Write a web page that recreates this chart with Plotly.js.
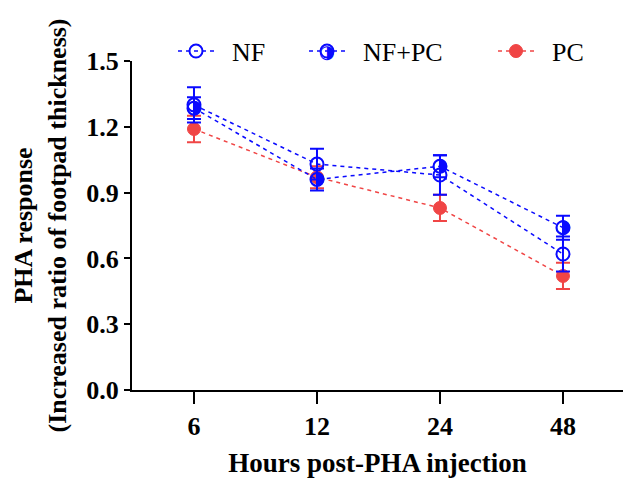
<!DOCTYPE html>
<html>
<head>
<meta charset="utf-8">
<script src="https://cdn.plot.ly/plotly-3.0.1.min.js"></script>
<style>html,body{margin:0;padding:0;background:#fff;}#chart{width:623px;height:478px;}</style>
</head>
<body>
<div id="chart"></div>
<script>
// ---- data ----
const hours = ['6', '12', '24', '48'];
const nfMean = [1.30, 1.03, 0.98, 0.62];
const nfErr = [0.08, 0.07, 0.09, 0.08];
const nfpcMean = [1.285, 0.96, 1.02, 0.74];
const nfpcErr = [0.05, 0.05, 0.05, 0.055];
const pcMean = [1.19, 0.97, 0.83, 0.52];
const pcErr = [0.06, 0.05, 0.06, 0.06];
const seriesNames = ['NF', 'NF+PC', 'PC'];

const BLUE = '#0a0aff';
const RED = '#f04545';
const FONT = '"Liberation Serif", "Times New Roman", serif';
const PAD = '\u00a0\u00a0';

function errBar(arr, color) {
  return {type: 'data', array: arr, visible: true, color: color, thickness: 2, width: 7};
}

const traces = [
  {
    x: hours, y: pcMean, name: PAD + seriesNames[2], legend: 'legend3',
    mode: 'lines+markers', type: 'scatter',
    line: {color: RED, width: 1.5, dash: '4px,4px'},
    marker: {symbol: 'circle', size: 13, color: RED, line: {color: RED, width: 1}},
    error_y: errBar(pcErr, RED)
  },
  {
    x: hours, y: nfMean, name: PAD + seriesNames[0], legend: 'legend',
    mode: 'lines+markers', type: 'scatter',
    line: {color: BLUE, width: 1.5, dash: '4px,4px'},
    marker: {symbol: 'circle-open', size: 13, color: BLUE, line: {color: BLUE, width: 2}},
    error_y: errBar(nfErr, BLUE)
  },
  {
    x: hours, y: nfpcMean, name: PAD + seriesNames[1], legend: 'legend2',
    mode: 'lines+markers', type: 'scatter',
    line: {color: BLUE, width: 1.5, dash: '4px,4px'},
    marker: {symbol: 'circle-open', size: 13, color: BLUE, line: {color: BLUE, width: 2}},
    error_y: errBar(nfpcErr, BLUE)
  },
  {
    x: hours, y: nfpcMean, showlegend: false, hoverinfo: 'skip',
    mode: 'text', type: 'scatter', text: hours.map(() => '\u25D1'),
    textposition: 'middle center',
    textfont: {family: 'DejaVu Sans', size: 18, color: BLUE}
  }
];

const LEG_W = 36;
const legBase = {
  orientation: 'h', yanchor: 'middle', xanchor: 'left', y: 1.03,
  font: {family: FONT, size: 26, color: '#000'},
  bgcolor: 'rgba(0,0,0,0)', borderwidth: 0, itemwidth: LEG_W
};
const plotL = 132, plotW = 623 - 132;
function px2paper(px) { return (px - plotL) / plotW; }
const markerOff = (LEG_W + 10) / 2;

const layout = {
  width: 623, height: 478,
  margin: {l: 132, r: 0, t: 61, b: 88},
  paper_bgcolor: '#fff', plot_bgcolor: '#fff',
  showlegend: true,
  font: {family: FONT, color: '#000'},
  xaxis: {
    type: 'category', range: [-0.504, 3.488],
    showline: true, linecolor: '#000', linewidth: 2,
    ticks: 'outside', ticklen: 12, tickwidth: 2, tickcolor: '#000',
    showgrid: false, zeroline: false,
    tickfont: {family: FONT, size: 26, color: '#000', weight: 'bold'},
    title: {text: '<b>Hours post-PHA injection</b>', font: {family: FONT, size: 27, color: '#000'}, standoff: 14}
  },
  yaxis: {
    range: [0, 1.5], dtick: 0.3, tick0: 0, tickformat: '.1f',
    showline: true, linecolor: '#000', linewidth: 2,
    ticks: 'outside', ticklen: 6, tickwidth: 2, tickcolor: '#000',
    showgrid: false, zeroline: false,
    tickfont: {family: FONT, size: 26, color: '#000', weight: 'bold'},
    title: {text: '<b>PHA response<br>(Increased ratio of footpad thickness)</b>', font: {family: FONT, size: 26, color: '#000'}, standoff: 12}
  },
  legend: Object.assign({}, legBase, {x: px2paper(196 - markerOff)}),
  legend2: Object.assign({}, legBase, {x: px2paper(327 - markerOff)}),
  legend3: Object.assign({}, legBase, {x: px2paper(516 - markerOff)}),
  annotations: [
    {xref: 'paper', yref: 'paper', x: px2paper(327), y: 1.03, text: '\u25D1', showarrow: false,
     font: {family: 'DejaVu Sans', size: 18, color: BLUE}, xanchor: 'center', yanchor: 'middle'}
  ]
};

Plotly.newPlot('chart', traces, layout, {displayModeBar: false, staticPlot: true});
</script>
</body>
</html>
